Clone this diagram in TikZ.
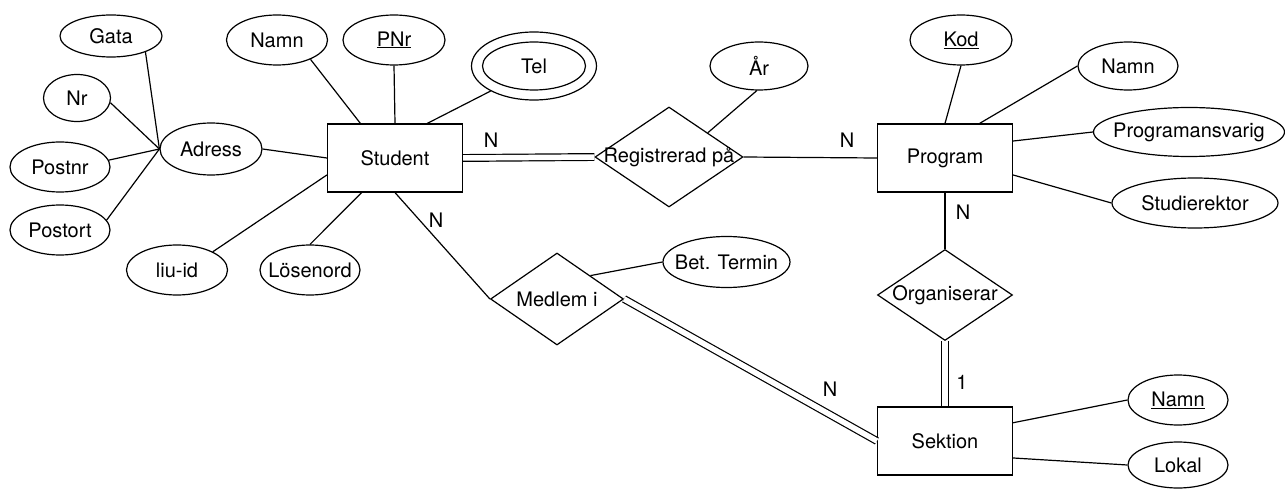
\documentclass[tikz,border=0pt]{standalone}
\usepackage{fontspec}
\setmainfont{TeX Gyre Heros}
\usetikzlibrary{shapes.geometric}
\begin{document}
\begin{tikzpicture}[x=1pt,y=-1pt,
  line width=1.2pt,
  font=\fontsize{20}{24}\selectfont,
  attr/.style={ellipse, draw, inner sep=0pt},
  entity/.style={rectangle, draw, inner sep=0pt, minimum width=135, minimum height=68},
  rel/.style={diamond, draw, inner sep=0pt},
  total/.style={double, double distance=5.5pt},
  card/.style={inner sep=0pt}
]
\useasboundingbox (0,0) rectangle (1285,489);

% entities
\node[entity] (student) at (395,158) {Student};
\node[entity] (prog) at (945,158) {Program};
\node[entity] (sek) at (945,441) {Sektion};

% relationships
\node[rel, minimum width=148, minimum height=100, label={center:Registrerad på}] (reg) at (669,157) {};
\node[rel, minimum width=133, minimum height=92, label={center:Medlem i}] (medlem) at (557,299) {};
\node[rel, minimum width=135, minimum height=91, label={center:Organiserar}] (org) at (945,295) {};

% attributes of Student
\node[attr, minimum width=102, minimum height=52, label={center:Adress}] (adress) at (211,149) {};
\node[attr, minimum width=102, minimum height=42, label={center:Gata}] (gata) at (111,36) {};
\node[attr, minimum width=67, minimum height=47, label={center:Nr}] (nr) at (77,98) {};
\node[attr, minimum width=100, minimum height=50, label={center:Postnr}] (postnr) at (60,167) {};
\node[attr, minimum width=100, minimum height=50, label={center:Postort}] (postort) at (60,230) {};
\node[attr, minimum width=101, minimum height=50, label={center:Namn}] (snamn) at (277,40) {};
\node[attr, minimum width=102, minimum height=50, label={center:\underline{PNr}}] (pnr) at (394,40) {};
\node[attr, minimum width=125, minimum height=68] (telo) at (534,66) {};
\node[attr, minimum width=103, minimum height=48, label={center:Tel}] (teli) at (534,66) {};
\node[attr, minimum width=101, minimum height=50, label={center:liu-id}] (liuid) at (177,270) {};
\node[attr, minimum width=100, minimum height=50, label={center:Lösenord}] (losen) at (310,270) {};

% attribute of Registrerad på
\node[attr, minimum width=98, minimum height=48, label={center:År}] (ar) at (759,66) {};

% attributes of Program
\node[attr, minimum width=102, minimum height=50, label={center:\underline{Kod}}] (kod) at (961,40) {};
\node[attr, minimum width=100, minimum height=48, label={center:Namn}] (pnamn) at (1128,66) {};
\node[attr, minimum width=191, minimum height=49, label={center:Programansvarig}] (pansv) at (1189,132) {};
\node[attr, minimum width=166, minimum height=50, label={center:Studierektor}] (studrek) at (1195,203) {};

% attribute of Medlem i
\node[attr, minimum width=127, minimum height=51, label={center:Bet. Termin}] (bet) at (726.5,262) {};

% attributes of Sektion
\node[attr, minimum width=100, minimum height=50, label={center:\underline{Namn}}] (knamn) at (1178,400) {};
\node[attr, minimum width=100, minimum height=46, label={center:Lokal}] (lokal) at (1178,465) {};

% cardinalities
\node[card] (c1) at (491,140) {N};
\node[card] (c2) at (847,140) {N};
\node[card] (c3) at (963,212) {N};
\node[card] (c4) at (436,220) {N};
\node[card] (c5) at (830,389) {N};
\node[card] (c6) at (962,382) {1};

% connectors: composite attribute
\draw (gata.-25) -- (adress.west);
\draw (nr.-8) -- (adress.west);
\draw (postnr.8) -- (adress.west);
\draw (postort.12) -- (adress.west);

% connectors: Student
\draw (adress.east) -- (student.west);
\draw (snamn.-30) -- (student.135);
\draw (pnr.south) -- (student.north);
\draw (telo.210) -- (student.47);
\draw (liuid.27) -- (student.194);
\draw (losen.north) -- (student.226);

% connectors: relationships
\draw[total] (student.east) -- (reg.west);
\draw (ar.265) -- (reg.32);
\draw (reg.east) -- (prog.west);
\draw (student.south) -- (medlem.west);
\draw (bet.west) -- (medlem.35);
\draw[total] (medlem.east) -- (sek.west);
\draw (prog.south) -- (org.north);
\draw[total] (org.south) -- (sek.north);

% connectors: Program
\draw (kod.south) -- (prog.north);
\draw (pnamn.west) -- (prog.45);
\draw (pansv.west) -- (prog.14);
\draw (studrek.west) -- (prog.-14);

% connectors: Sektion
\draw (knamn.west) -- (sek.15);
\draw (lokal.west) -- (sek.-14);
\end{tikzpicture}
\end{document}
